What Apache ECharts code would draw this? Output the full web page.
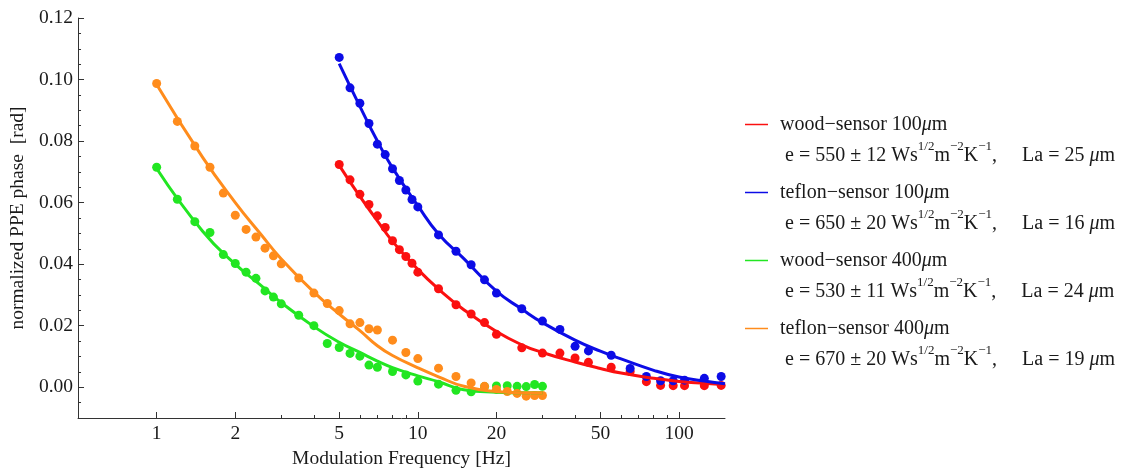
<!DOCTYPE html>
<html>
<head>
<meta charset="utf-8">
<script src="https://cdn.jsdelivr.net/npm/echarts@6/dist/echarts.min.js"></script>
<style>
  html, body { margin: 0; padding: 0; background: #fff; }
  #chart { width: 1123px; height: 474px; }
</style>
</head>
<body>
<div id="chart"></div>
<script>
// measured frequencies (Hz)
const freqLow = [1, 1.2, 1.4, 1.6, 1.8, 2, 2.2, 2.4, 2.6, 2.8, 3, 3.5, 4, 4.5, 5, 5.5, 6, 6.5, 7, 8, 9, 10, 12, 14, 16, 18, 20, 22, 24, 26, 28, 30]
const freqHigh = [5, 5.5, 6, 6.5, 7, 7.5, 8, 8.5, 9, 9.5, 10, 12, 14, 16, 18, 20, 25, 30, 35, 40, 45, 55, 65, 75, 85, 95, 105, 125, 145]

// measured normalized phase (rad)
const woodThin = [0.0724, 0.0674, 0.0627, 0.0594, 0.0557, 0.0519, 0.0476, 0.0447, 0.0425, 0.0403, 0.0374, 0.0320, 0.0268, 0.0238, 0.0210, 0.0172, 0.0128, 0.0111, 0.0111, 0.0095, 0.0081, 0.0065, 0.0051, 0.0018, 0.0006, 0.0005, 0.0005, 0.0005, 0.0006]
const teflonThin = [0.1072, 0.0973, 0.0923, 0.0857, 0.0790, 0.0756, 0.0710, 0.0672, 0.0641, 0.0610, 0.0586, 0.0495, 0.0442, 0.0398, 0.0349, 0.0306, 0.0255, 0.0215, 0.0188, 0.0133, 0.0118, 0.0104, 0.0061, 0.0035, 0.0021, 0.0021, 0.0023, 0.0029, 0.0035]
const woodThick = [0.0715, 0.0611, 0.0538, 0.0503, 0.0431, 0.0402, 0.0374, 0.0354, 0.0313, 0.0293, 0.0271, 0.0234, 0.0200, 0.0142, 0.0129, 0.0110, 0.0101, 0.0072, 0.0065, 0.0051, 0.0040, 0.0020, 0.0010, -0.0010, -0.0015, 0.0002, 0.0004, 0.0005, 0.0003, 0.0002, 0.0009, 0.0003]
const teflonThick = [0.0987, 0.0864, 0.0784, 0.0715, 0.0631, 0.0559, 0.0513, 0.0488, 0.0452, 0.0427, 0.0401, 0.0355, 0.0306, 0.0272, 0.0249, 0.0206, 0.0210, 0.0190, 0.0186, 0.0153, 0.0113, 0.0093, 0.0062, 0.0035, 0.0014, 0.0003, -0.0007, -0.0014, -0.0020, -0.0029, -0.0027, -0.0027]

// fitted curves
const fitFreqLow = [1, 1.5, 2, 2.5, 3, 4, 5, 6, 7, 8, 10, 12, 15, 20, 25, 30]
const fitWoodThick = [0.0711, 0.0507, 0.0400, 0.0332, 0.0275, 0.0197, 0.0146, 0.0113, 0.0085, 0.0064, 0.0037, 0.0018, -0.0008, -0.0016, -0.0018, -0.0018]
const fitTeflonThick = [0.0984, 0.0747, 0.0600, 0.0498, 0.0417, 0.0309, 0.0238, 0.0184, 0.0135, 0.0103, 0.0063, 0.0034, 0.0003, -0.0014, -0.0018, -0.0018]
const fitFreqHigh = [5, 6, 7, 8, 10, 12, 15, 20, 25, 30, 40, 50, 60, 80, 100, 125, 150]
const fitWoodThin = [0.0721, 0.0620, 0.0541, 0.0474, 0.0383, 0.0319, 0.0252, 0.0181, 0.0138, 0.0113, 0.0082, 0.0061, 0.0046, 0.0029, 0.0019, 0.0013, 0.0009]
const fitTeflonThin = [0.1052, 0.0913, 0.0800, 0.0713, 0.0590, 0.0498, 0.0418, 0.0312, 0.0254, 0.0210, 0.0153, 0.0117, 0.0092, 0.0055, 0.0033, 0.0020, 0.0011]

// axes
const xTickLabels = [1, 2, 5, 10, 20, 50, 100]
const xMinorTicks = [3, 4, 6, 7, 8, 9, 30, 40, 60, 70, 80, 90]
const yTickLabels = [0, 0.02, 0.04, 0.06, 0.08, 0.10, 0.12]

// legend
const seriesNames = ['wood−sensor 100μm', 'teflon−sensor 100μm', 'wood−sensor 400μm', 'teflon−sensor 400μm']
const legendE = [550, 650, 530, 670]
const legendErr = [12, 20, 11, 20]
const legendLa = [25, 16, 24, 19]
const colors = ['#fb1010', '#0c0ce6', '#22e622', '#ff8c1c']

const font = 'Liberation Serif'
const textColor = '#1a1a1a'
const axisColor = '#333'
const axisFontSize = 19.5

const pair = (xs, ys) => xs.map((x, i) => [x, ys[i]])

const pointSets = [pair(freqHigh, woodThin), pair(freqHigh, teflonThin), pair(freqLow, woodThick), pair(freqLow, teflonThick)]
const fitSets = [pair(fitFreqHigh, fitWoodThin), pair(fitFreqHigh, fitTeflonThin), pair(fitFreqLow, fitWoodThick), pair(fitFreqLow, fitTeflonThick)]

const scatterSeries = pointSets.map((d, i) => ({
  type: 'scatter',
  name: seriesNames[i] + ' data',
  data: d,
  symbolSize: 9,
  itemStyle: { color: colors[i], opacity: 1 },
  z: 2
}))
const lineSeries = fitSets.map((d, i) => ({
  type: 'line',
  name: seriesNames[i],
  data: d,
  smooth: true,
  showSymbol: false,
  lineStyle: { color: colors[i], width: 3 },
  itemStyle: { color: colors[i] },
  z: 3
}))

// blank first line so the swatch sits next to the name line
function legendText(name) {
  const i = seriesNames.indexOf(name)
  const head = name.replace('μm', '')
  return '{blank| }\n' +
    '{nm|' + head + '}{mu|μ}{t|m}\n' +
    '{f|e = ' + legendE[i] + ' ± ' + legendErr[i] + ' Ws}{sup|1/2}{t|m}{sup|−2}{t|K}{sup|−1}{t|,     La = ' + legendLa[i] + ' }{mu|μ}{t|m}'
}

const chart = echarts.init(document.getElementById('chart'), null, { renderer: 'canvas' })
const option = {
  animation: false,
  backgroundColor: '#fff',
  color: colors,
  grid: { left: 78, top: 18, width: 647, height: 403 },
  legend: {
    data: seriesNames,
    orient: 'vertical',
    left: 745,
    top: 78,
    padding: 0,
    itemGap: -25,
    itemWidth: 23,
    itemHeight: 1.5,
    icon: 'rect',
    selectedMode: false,
    formatter: legendText,
    textStyle: {
      fontFamily: font,
      fontSize: 20,
      color: textColor,
      lineHeight: 31,
      rich: {
        blank: { lineHeight: 31 },
        nm: { padding: [0, 0, 0, 7] },
        f: { padding: [0, 0, 0, 12] },
        t: {},
        mu: { fontStyle: 'italic' },
        sup: { fontSize: 13, lineHeight: 20, verticalAlign: 'top' }
      }
    }
  },
  xAxis: [
    {
      type: 'log',
      logBase: 10,
      min: 0.5,
      max: 150,
      name: 'Modulation Frequency [Hz]',
      nameLocation: 'middle',
      nameGap: 31,
      nameTextStyle: { fontFamily: font, fontSize: axisFontSize, color: textColor },
      axisLine: { onZero: false, lineStyle: { color: axisColor, width: 1 } },
      axisTick: { inside: true, length: 6, customValues: xTickLabels, lineStyle: { color: axisColor } },
      minorTick: { show: false },
      axisLabel: {
        customValues: xTickLabels,
        formatter: (v) => String(v),
        margin: 6,
        fontFamily: font,
        fontSize: axisFontSize,
        color: textColor
      },
      splitLine: { show: false }
    },
    {
      // minor ticks only
      type: 'log',
      logBase: 10,
      min: 0.5,
      max: 150,
      position: 'bottom',
      axisLine: { show: false, onZero: false },
      axisTick: { inside: true, length: 3, customValues: xMinorTicks, lineStyle: { color: axisColor } },
      axisLabel: { show: false },
      splitLine: { show: false }
    }
  ],
  yAxis: [
    {
      type: 'value',
      min: -0.01,
      max: 0.12,
      name: 'normalized PPE phase  [rad]',
      nameLocation: 'middle',
      nameGap: 48,
      nameTextStyle: { fontFamily: font, fontSize: axisFontSize, color: textColor },
      axisLine: { show: true, onZero: false, lineStyle: { color: axisColor, width: 1 } },
      axisTick: { show: true, inside: true, length: 6, customValues: yTickLabels, lineStyle: { color: axisColor } },
      axisLabel: {
        customValues: yTickLabels,
        formatter: (v) => v.toFixed(2),
        margin: 5,
        fontFamily: font,
        fontSize: axisFontSize,
        color: textColor
      },
      splitLine: { show: false }
    },
    {
      // minor ticks every 0.005
      type: 'value',
      min: -0.01,
      max: 0.12,
      interval: 0.005,
      position: 'left',
      axisLine: { show: false, onZero: false },
      axisTick: { show: true, inside: true, length: 3, lineStyle: { color: axisColor } },
      axisLabel: { show: false },
      splitLine: { show: false }
    }
  ],
  series: [...scatterSeries, ...lineSeries]
}
chart.setOption(option)
</script>
</body>
</html>
